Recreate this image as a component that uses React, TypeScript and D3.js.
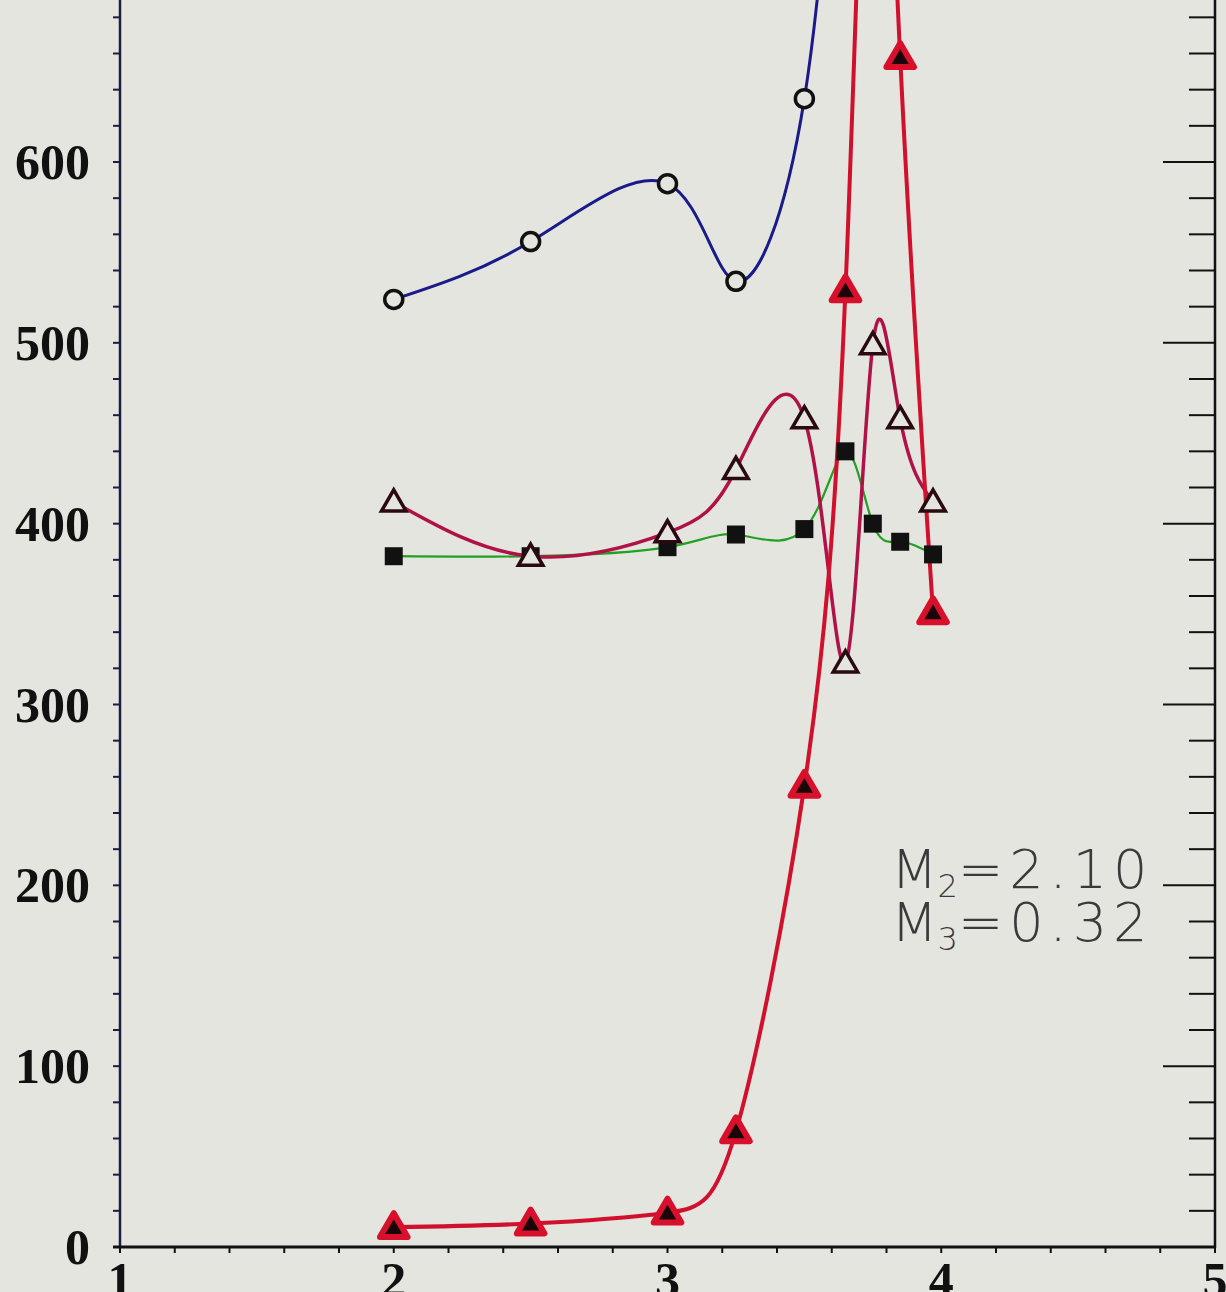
import React from "react";
import { scaleLinear, line, curveNatural, range, symbol, symbolTriangle } from "d3";

// x positions shared by all series
const xs = [2, 2.5, 3, 3.25, 3.5, 3.65, 3.75, 3.85, 3.97];

// open circles, blue line (leaves the top of the frame after 3.5)
const blueX = [2, 2.5, 3, 3.25, 3.5, 3.65];
const blueY = [524, 556, 588, 534, 635, 900];

// filled triangles, red line (3.75 is above the frame)
const redY = [11, 13, 19, 64, 255, 529, 880, 658, 351];
const redShown = [true, true, true, true, true, true, false, true, true];

// open triangles, crimson line
const crimsonY = [412, 382, 395, 430, 458, 323, 499, 458, 412];

// filled squares, green line
const greenY = [382, 382, 387, 394, 397, 440, 400, 390, 383];

const xTicks = [1, 2, 3, 4, 5];
const yTicks = [0, 100, 200, 300, 400, 500, 600, 700];

const W = 1226;
const H = 1292;
const BG = "#e5e5e0";

export default function App() {
  const x = scaleLinear().domain([1, 5]).range([120, 1215]);
  const y = scaleLinear().domain([0, 600]).range([1247, 162]);

  const mk = (px: number[], py: number[]) =>
    line<number>()
      .x((_, i) => x(px[i]))
      .y((d) => y(d))
      .curve(curveNatural)(py) ?? "";

  const tri = (size: number) => symbol().type(symbolTriangle).size(size)() ?? "";
  const bigTri = tri(330);
  const openTri = tri(260);

  const minorY = range(0, 720, 20);
  const minorX = range(1, 5.01, 0.2);

  return (
    <svg
      width={W}
      height={H}
      style={{ position: "absolute", left: 0, top: 0, background: BG }}
      fontFamily="Liberation Serif, serif"
    >
      <rect width={W} height={H} fill={BG} />

      {/* left axis */}
      <line x1={120} x2={120} y1={-20} y2={1248} stroke="#1c1c44" strokeWidth={2.5} />
      {minorY.map((v) => (
        <line key={"l" + v} x1={113} x2={120} y1={y(v)} y2={y(v)} stroke="#1c1c44" strokeWidth={2} />
      ))}
      {yTicks.map((v) => (
        <text key={"yl" + v} x={90} y={y(v)} dy="0.34em" textAnchor="end" fontSize={50} fontWeight="bold" fill="#111">
          {v}
        </text>
      ))}

      {/* right axis */}
      <line x1={1215} x2={1215} y1={-20} y2={1248} stroke="#111" strokeWidth={2.5} />
      {minorY.map((v) => (
        <line
          key={"r" + v}
          x1={v % 100 === 0 ? 1163 : 1189}
          x2={1215}
          y1={y(v)}
          y2={y(v)}
          stroke="#111"
          strokeWidth={2}
        />
      ))}

      {/* bottom axis */}
      <line x1={113} x2={1216} y1={1247} y2={1247} stroke="#111" strokeWidth={3} />
      {minorX.map((v, i) => (
        <line key={"b" + i} x1={x(v)} x2={x(v)} y1={1247} y2={1253} stroke="#111" strokeWidth={2} />
      ))}
      {xTicks.map((v) => (
        <text key={"xl" + v} x={x(v)} y={1297} textAnchor="middle" fontSize={50} fontWeight="bold" fill="#111">
          {v}
        </text>
      ))}

      {/* lines */}
      <path d={mk(xs, greenY)} fill="none" stroke="#22a022" strokeWidth={2.2} />
      <path d={mk(xs, crimsonY)} fill="none" stroke="#b01248" strokeWidth={3.5} />
      <path d={mk(blueX, blueY)} fill="none" stroke="#1a1a8a" strokeWidth={3} />
      <path d={mk(xs, redY)} fill="none" stroke="#d0102c" strokeWidth={4} />

      {/* markers */}
      {blueX.slice(0, 5).map((v, i) => (
        <circle key={"c" + i} cx={x(v)} cy={y(blueY[i])} r={9} fill={BG} stroke="#111" strokeWidth={3.5} />
      ))}
      {xs.map((v, i) => (
        <rect key={"s" + i} x={x(v) - 9} y={y(greenY[i]) - 9} width={18} height={18} fill="#111" />
      ))}
      {xs.map((v, i) => (
        <path
          key={"o" + i}
          d={openTri}
          transform={`translate(${x(v)},${y(crimsonY[i]) + 2})`}
          fill={BG}
          stroke="#2a0a12"
          strokeWidth={3.5}
        />
      ))}
      {xs.map((v, i) =>
        redShown[i] ? (
          <path
            key={"t" + i}
            d={bigTri}
            transform={`translate(${x(v)},${y(redY[i]) + 2})`}
            fill="#1a0508"
            stroke="#d8102c"
            strokeWidth={6}
            strokeLinejoin="round"
          />
        ) : null
      )}

      {/* annotation */}
      <g fontFamily="DejaVu Sans, sans-serif" fontWeight={200} fill="#3a3a3a" fontSize={54}>
        <text x={891} y={888}>
          <tspan letterSpacing={0}>M</tspan>
          <tspan fontSize={32} dy={9}>2</tspan>
          <tspan dy={-9} letterSpacing={6}>=2.10</tspan>
        </text>
        <text x={891} y={941}>
          <tspan letterSpacing={0}>M</tspan>
          <tspan fontSize={32} dy={9}>3</tspan>
          <tspan dy={-9} letterSpacing={6}>=0.32</tspan>
        </text>
      </g>
    </svg>
  );
}
